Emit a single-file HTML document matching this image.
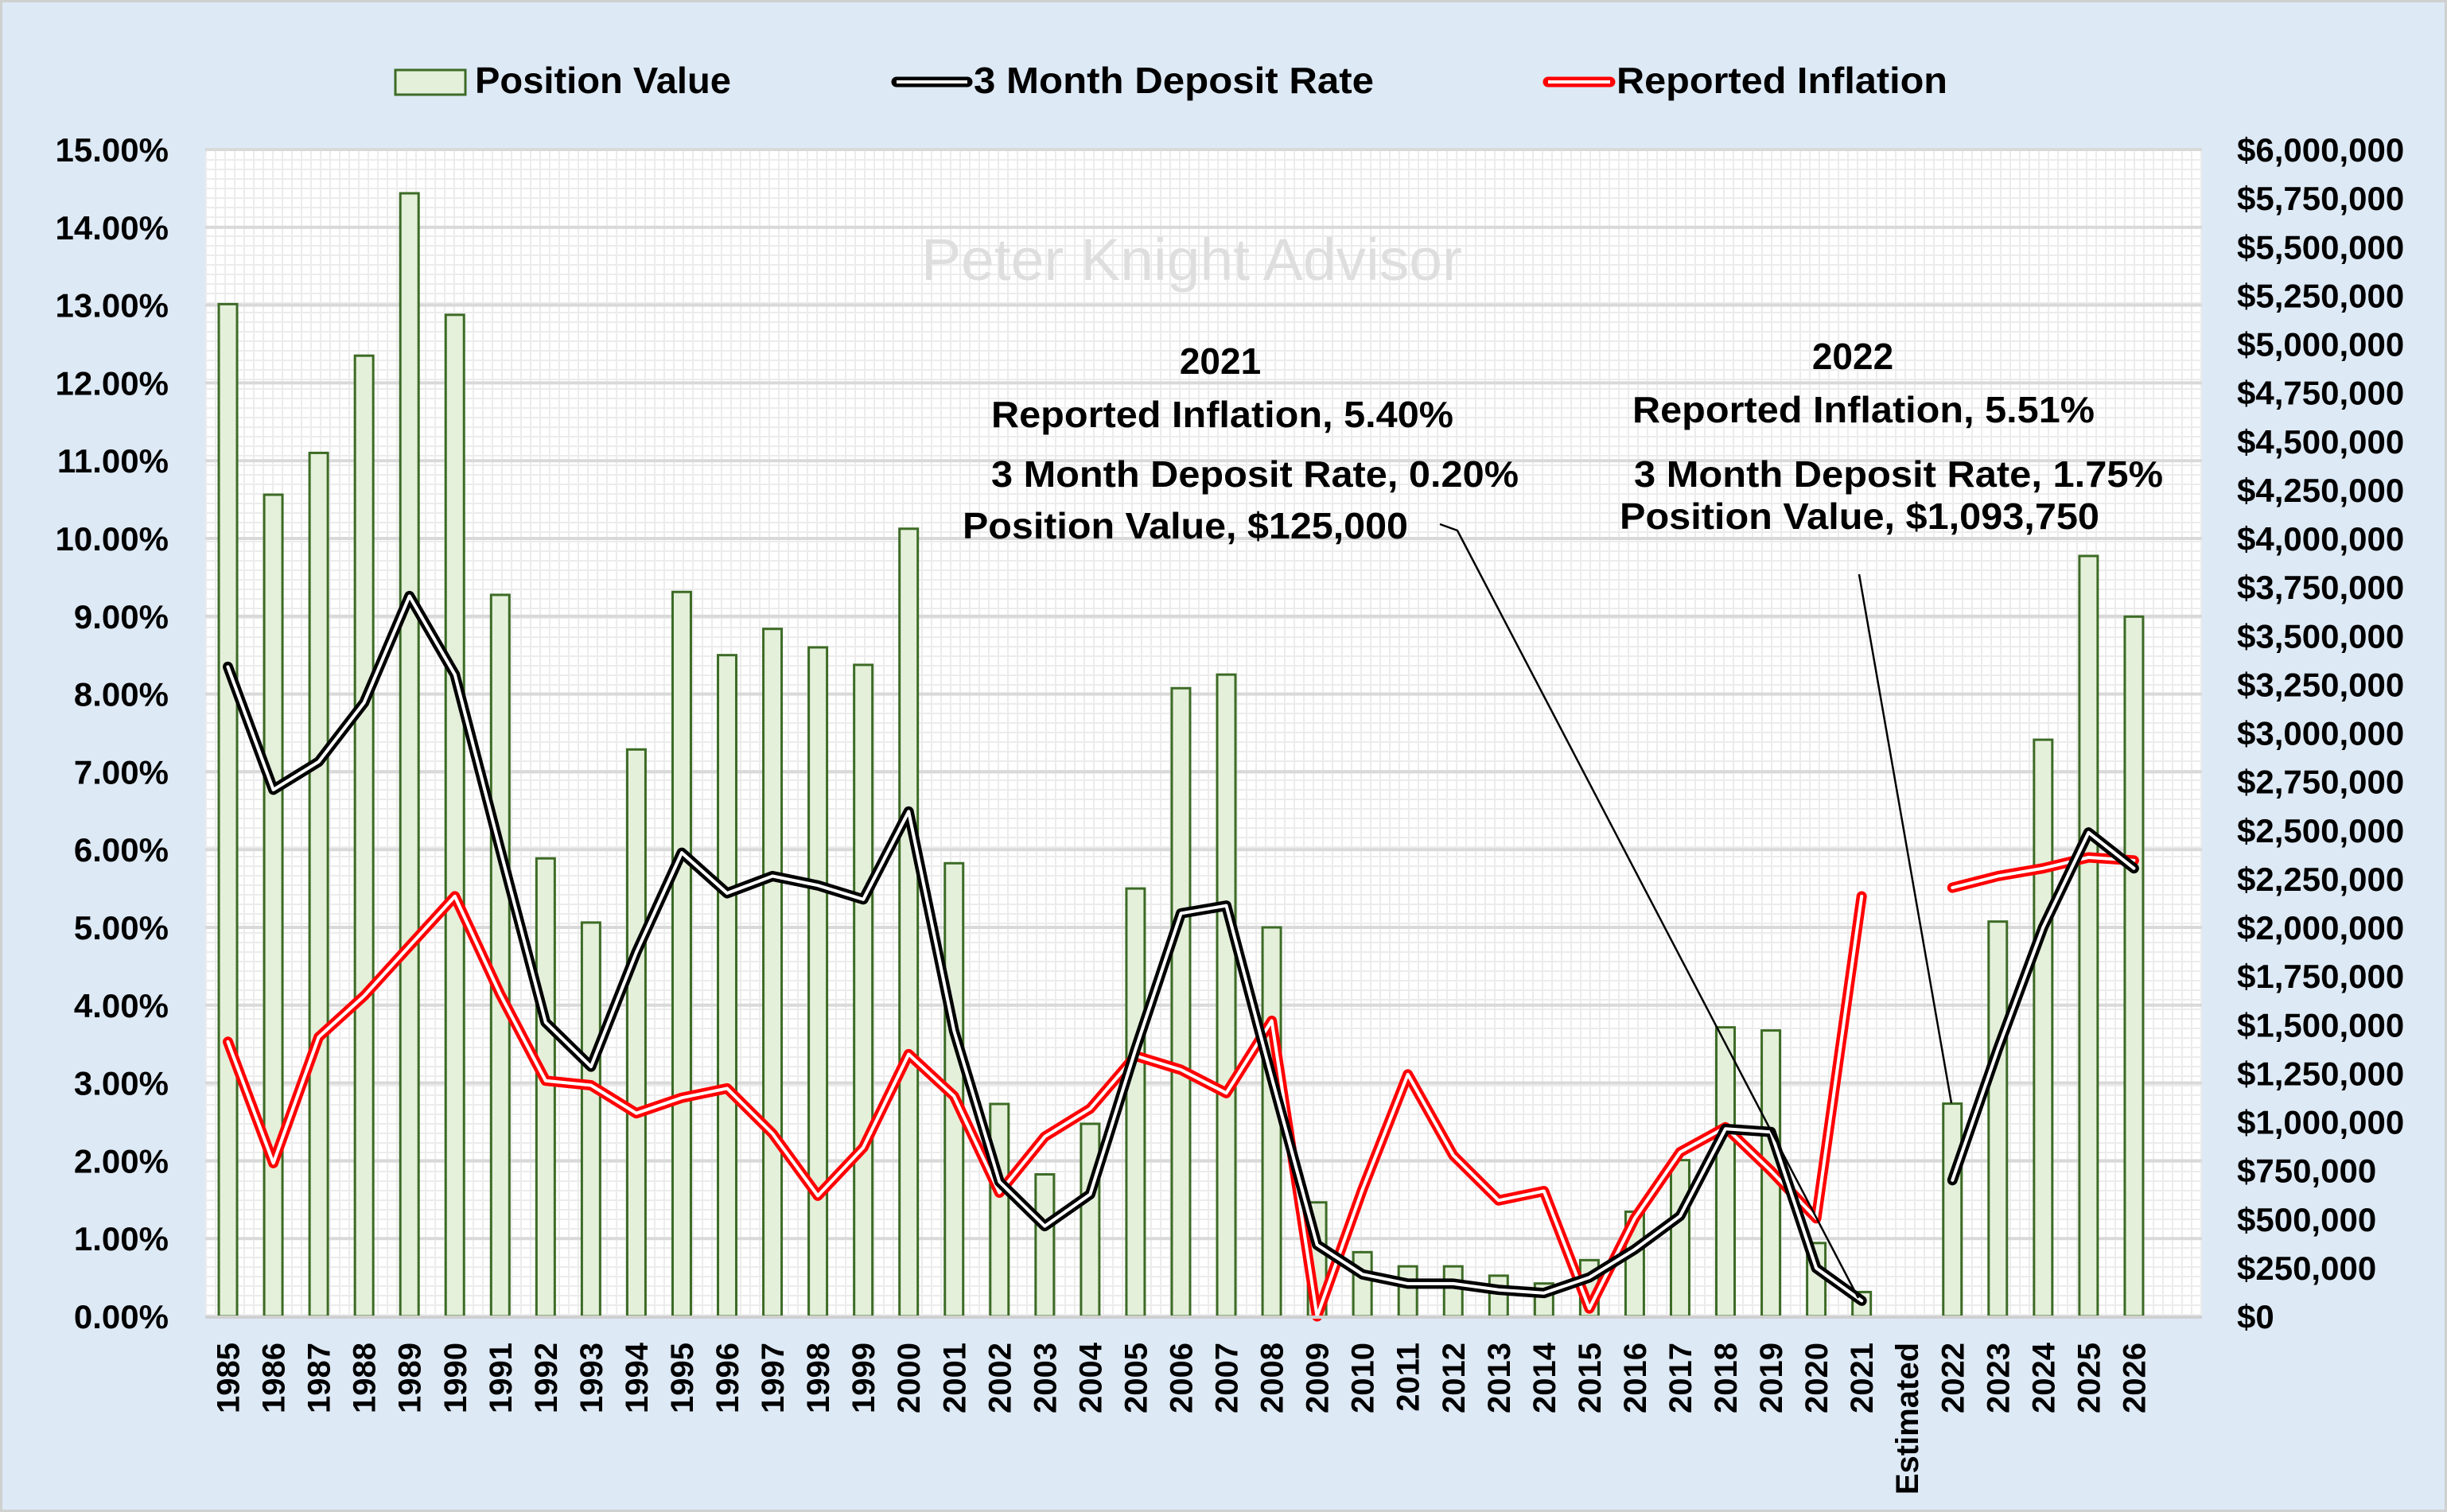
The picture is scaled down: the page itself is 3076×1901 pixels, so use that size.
<!DOCTYPE html>
<html><head><meta charset="utf-8"><style>
html,body{margin:0;padding:0;background:#dde9f5;}
svg{display:block;font-family:"Liberation Sans",sans-serif;font-weight:bold;}
</style></head><body>
<svg id="chart" width="3076" height="1901" viewBox="0 0 3076 1901" xmlns="http://www.w3.org/2000/svg">
<defs>
<pattern id="grid" x="258" y="188" width="12" height="12" patternUnits="userSpaceOnUse">
<rect width="12" height="12" fill="#ffffff"/>
<path d="M0 0.5H12M0.5 0V12" stroke="#ececec" stroke-width="3"/>
</pattern>
</defs>
<rect x="0" y="0" width="3076" height="1901" fill="#dde9f5" stroke="#d0d0d0" stroke-width="6"/>
<rect x="258" y="188" width="2510" height="1467" fill="url(#grid)"/>
<g id="gridlines"></g>
<text x="1498" y="352" text-anchor="middle" font-size="74" font-weight="normal" fill="#dedede" textLength="680" lengthAdjust="spacingAndGlyphs">Peter Knight Advisor</text>
<g id="bars"></g>
<g id="lines"></g>
<g id="yleft"></g>
<g id="yright"></g>
<g id="xaxis"></g>
<line x1="258" y1="1656" x2="2768" y2="1656" stroke="#d0d0d0" stroke-width="4"/>

<g>
<g>
<rect x="497" y="88" width="88" height="31" fill="#e4f0da" stroke="#3d6b26" stroke-width="3"/>
<text x="597" y="117" font-size="46" textLength="322" lengthAdjust="spacingAndGlyphs">Position Value</text>
</g>
<g>
<line x1="1127" y1="103" x2="1216" y2="103" stroke="#000" stroke-width="13" stroke-linecap="round"/>
<line x1="1127" y1="103" x2="1216" y2="103" stroke="#fff" stroke-width="4"/>
<text x="1224" y="117" font-size="46" textLength="503" lengthAdjust="spacingAndGlyphs">3 Month Deposit Rate</text>
</g>
<g>
<line x1="1946" y1="103" x2="2024" y2="103" stroke="#ff0000" stroke-width="13" stroke-linecap="round"/>
<line x1="1946" y1="103" x2="2024" y2="103" stroke="#fff" stroke-width="4"/>
<text x="2032" y="117" font-size="46" textLength="416" lengthAdjust="spacingAndGlyphs">Reported Inflation</text>
</g>
</g>

<g font-size="46">
<text x="1534" y="470" text-anchor="middle">2021</text>
<text x="1246" y="537" textLength="581" lengthAdjust="spacingAndGlyphs">Reported Inflation, 5.40%</text>
<text x="1246" y="612" textLength="663" lengthAdjust="spacingAndGlyphs">3 Month Deposit Rate, 0.20%</text>
<text x="1210" y="677" textLength="560" lengthAdjust="spacingAndGlyphs">Position Value, $125,000</text>
<polyline points="1810,659 1832,667 2336,1632" fill="none" stroke="#000" stroke-width="2.5"/>
</g>
<g font-size="46">
<text x="2329" y="464" text-anchor="middle">2022</text>
<text x="2052" y="531" textLength="581" lengthAdjust="spacingAndGlyphs">Reported Inflation, 5.51%</text>
<text x="2054" y="612" textLength="665" lengthAdjust="spacingAndGlyphs">3 Month Deposit Rate, 1.75%</text>
<text x="2036" y="665" textLength="603" lengthAdjust="spacingAndGlyphs">Position Value, $1,093,750</text>
<line x1="2337" y1="722" x2="2453" y2="1387" stroke="#000" stroke-width="2.5"/>
</g>
</svg>
<script>
const categories = ["1985","1986","1987","1988","1989","1990","1991","1992","1993","1994","1995","1996","1997","1998","1999","2000","2001","2002","2003","2004","2005","2006","2007","2008","2009","2010","2011","2012","2013","2014","2015","2016","2017","2018","2019","2020","2021","Estimated","2022","2023","2024","2025","2026"];
const positionValue = [5205000,4225000,4440000,4940000,5775000,5150000,3710000,2355000,2025000,2915000,3725000,3400000,3535000,3440000,3350000,4050000,2330000,1092000,730000,990000,2200000,3230000,3300000,2000000,586000,330000,257000,257000,209000,169000,289000,538000,803000,1486000,1470000,377000,125000,null,1093750,2030000,2965000,3910000,3598000];
const depositRate = [8.35,6.77,7.13,7.89,9.26,8.25,6.0,3.78,3.21,4.68,5.96,5.44,5.66,5.54,5.36,6.49,3.67,1.73,1.16,1.57,3.43,5.18,5.28,3.07,0.92,0.54,0.42,0.42,0.34,0.30,0.50,0.86,1.29,2.41,2.37,0.62,0.20,null,1.75,3.43,5.0,6.22,5.76];
const inflation = [3.53,1.97,3.59,4.12,4.76,5.40,4.14,3.03,2.97,2.61,2.81,2.93,2.35,1.55,2.17,3.37,2.83,1.59,2.31,2.67,3.35,3.17,2.87,3.80,0.0,1.63,3.11,2.07,1.49,1.61,0.10,1.26,2.11,2.43,1.87,1.26,5.40,null,5.51,5.66,5.76,5.90,5.86];
const leftTicks = ["0.00%","1.00%","2.00%","3.00%","4.00%","5.00%","6.00%","7.00%","8.00%","9.00%","10.00%","11.00%","12.00%","13.00%","14.00%","15.00%"];
const rightTicks = ["$0","$250,000","$500,000","$750,000","$1,000,000","$1,250,000","$1,500,000","$1,750,000","$2,000,000","$2,250,000","$2,500,000","$2,750,000","$3,000,000","$3,250,000","$3,500,000","$3,750,000","$4,000,000","$4,250,000","$4,500,000","$4,750,000","$5,000,000","$5,250,000","$5,500,000","$5,750,000","$6,000,000"];

const NS = "http://www.w3.org/2000/svg";
const PL = 258, PR = 2768, PT = 188, PB = 1655;
const nSlots = categories.length + 1;
const slot = (PR - PL) / nSlots;
const xPos = i => PL + slot * (i + 0.5);
const yPct = v => PB - (v / 15) * (PB - PT);
const yUsd = v => PB - (v / 6000000) * (PB - PT);
function mk(tag, attrs, parent) {
  const e = document.createElementNS(NS, tag);
  for (const k in attrs) e.setAttribute(k, attrs[k]);
  parent.appendChild(e);
  return e;
}
const gGrid = document.getElementById('gridlines');
leftTicks.forEach((t, i) => {
  if (i === 0) return;
  const y = yPct(i);
  const l = mk('line', {x1: PL, x2: PR, y1: y, y2: y, stroke: '#d9d9d9', 'stroke-width': 4}, gGrid);
  
  
});
const gL = document.getElementById('yleft');
leftTicks.forEach((t, i) => {
  const e = mk('text', {x: 212, y: yPct(i) + 15, 'text-anchor': 'end', 'font-size': 42}, gL);
  e.textContent = t;
  
  
});
const gR = document.getElementById('yright');
rightTicks.forEach((t, i) => {
  const e = mk('text', {x: 2812, y: yUsd(i * 250000) + 15, 'font-size': 42}, gR);
  e.textContent = t;
  
  
});
const gX = document.getElementById('xaxis');
categories.forEach((c, i) => {
  const x = xPos(i) + 14, y = 1688;
  const e = mk('text', {x: x, y: y, 'text-anchor': 'end', 'font-size': 40, transform: `rotate(-90 ${x} ${y})`}, gX);
  e.textContent = c;
  
  
});
const gB = document.getElementById('bars');
const bw = 23;
positionValue.forEach((v, i) => {
  if (v == null) return;
  const y = yUsd(v);
  const r = mk('rect', {x: xPos(i) - bw / 2, y: y, width: bw, height: PB - y, fill: '#e4f0da', stroke: '#3d6b26', 'stroke-width': 3}, gB);
  
  
});
const gLn = document.getElementById('lines');
function drawSeries(vals, color, name) {
  const segs = [];
  let cur = [];
  vals.forEach((v, i) => {
    if (v == null) { if (cur.length) segs.push(cur); cur = []; return; }
    cur.push(xPos(i).toFixed(1) + ',' + yPct(v).toFixed(1));
  });
  if (cur.length) segs.push(cur);
  segs.forEach(s => {
    const a = mk('polyline', {points: s.join(' '), fill: 'none', stroke: color, 'stroke-width': 13, 'stroke-linejoin': 'round', 'stroke-linecap': 'round'}, gLn);
    
    
    const b = mk('polyline', {points: s.join(' '), fill: 'none', stroke: '#ffffff', 'stroke-width': 4, 'stroke-linejoin': 'round', 'stroke-linecap': 'round'}, gLn);
    
    
  });
}
drawSeries(inflation, '#ff0000', 'reported-inflation');
drawSeries(depositRate, '#000000', 'deposit-rate');
</script>
</body></html>
